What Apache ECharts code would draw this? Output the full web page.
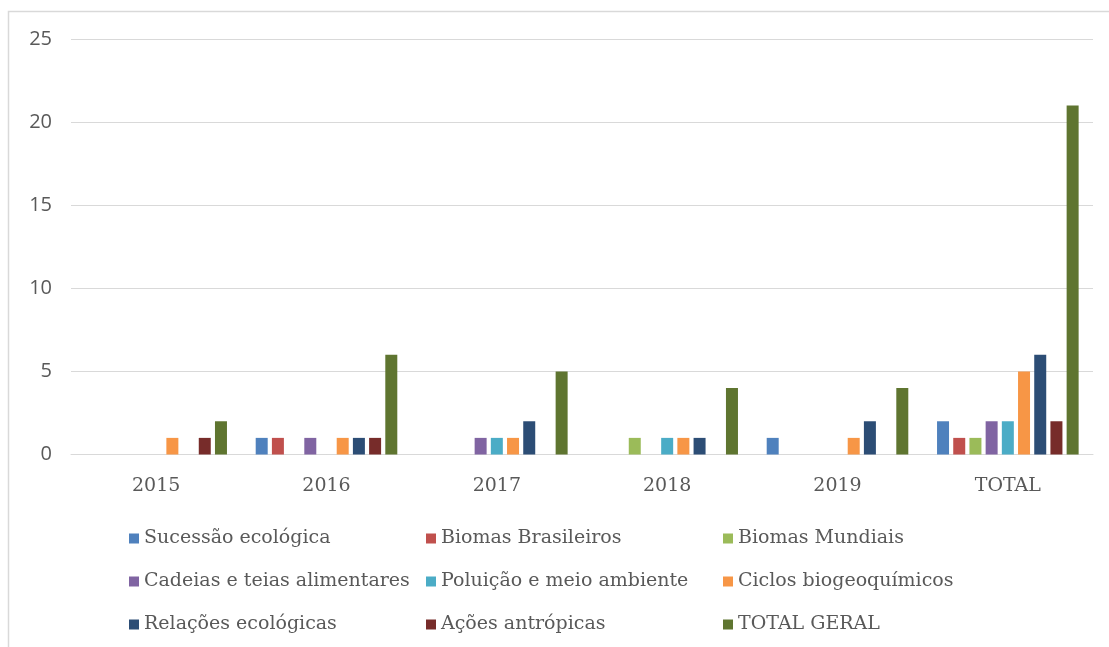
<!DOCTYPE html>
<html>
<head>
<meta charset="utf-8">
<script src="https://cdn.jsdelivr.net/npm/echarts@6/dist/echarts.min.js"></script>
<style>
html,body{margin:0;padding:0;background:#fff;}
#chart{width:1109px;height:647px;}
</style>
</head>
<body>
<div id="chart"></div>
<script>
const categories = ['2015', '2016', '2017', '2018', '2019', 'TOTAL'];
const seriesNames = [
  'Sucessão ecológica', 'Biomas Brasileiros', 'Biomas Mundiais',
  'Cadeias e teias alimentares', 'Poluição e meio ambiente', 'Ciclos biogeoquímicos',
  'Relações ecológicas', 'Ações antrópicas', 'TOTAL GERAL'
];
const sucessao   = [0, 1, 0, 0, 1, 2];
const biomasBr   = [0, 1, 0, 0, 0, 1];
const biomasMun  = [0, 0, 0, 1, 0, 1];
const cadeias    = [0, 1, 1, 0, 0, 2];
const poluicao   = [0, 0, 1, 1, 0, 2];
const ciclos     = [1, 1, 1, 1, 1, 5];
const relacoes   = [0, 1, 2, 1, 2, 6];
const acoes      = [1, 1, 0, 0, 0, 2];
const totalGeral = [2, 6, 5, 4, 4, 21];
const yTicks = [0, 5, 10, 15, 20, 25];

const values = [sucessao, biomasBr, biomasMun, cadeias, poluicao, ciclos, relacoes, acoes, totalGeral];
const colors = ['#4F81BD', '#C0504D', '#9BBB59', '#8064A2', '#4BACC6', '#F79646', '#2C4D75', '#772C2A', '#5F7530'];

const serif = '"DejaVu Serif"';
const chart = echarts.init(document.getElementById('chart'), null, {renderer: 'canvas'});

const legendCols = [0, 1, 2].map(c => ({
  orient: 'vertical',
  left: [124, 421, 718][c],
  top: 524,
  itemWidth: 10,
  itemHeight: 10,
  itemGap: 24,
  icon: 'rect',
  textStyle: {fontFamily: serif, fontSize: 19, color: '#595959'},
  data: [seriesNames[c], seriesNames[c + 3], seriesNames[c + 6]]
}));

chart.setOption({
  animation: false,
  color: colors,
  graphic: [{
    type: 'rect',
    shape: {x: 8.5, y: 11.5, width: 1200, height: 1000},
    style: {fill: 'none', stroke: '#d9d9d9', lineWidth: 1.5},
    silent: true
  }],
  legend: legendCols,
  grid: {left: 71, right: 16, top: 39, bottom: 192.5},
  xAxis: {
    type: 'category',
    data: categories,
    axisLine: {lineStyle: {color: '#d9d9d9', width: 1}},
    axisTick: {show: false},
    axisLabel: {fontFamily: serif, fontSize: 19, color: '#595959', margin: 22}
  },
  yAxis: {
    type: 'value',
    min: yTicks[0],
    max: yTicks[yTicks.length - 1],
    interval: 5,
    axisLine: {show: false},
    axisTick: {show: false},
    splitLine: {lineStyle: {color: '#d9d9d9', width: 1}},
    axisLabel: {fontFamily: '"Open Sans"', fontSize: 20, color: '#595959', margin: 19}
  },
  series: seriesNames.map((name, i) => ({
    name: name,
    type: 'bar',
    data: values[i],
    barWidth: 12,
    barGap: '35%',
    itemStyle: {color: colors[i]}
  }))
});
</script>
</body>
</html>
